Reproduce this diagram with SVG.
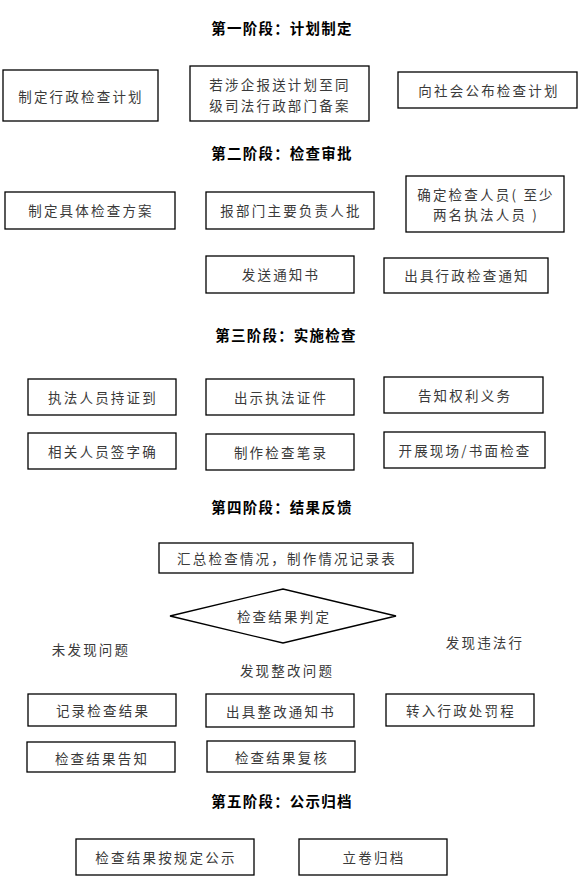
<svg xmlns="http://www.w3.org/2000/svg" width="586" height="876" viewBox="0 0 586 876">
<style>
.bx{fill:#fff;stroke:#000;stroke-width:1.3}
.t{font-family:"Noto Sans CJK SC","Noto Sans CJK JP",sans-serif;font-size:13.5px;fill:#3a3a3a;letter-spacing:2.2px;text-anchor:middle;dominant-baseline:central}
.h{font-family:"Noto Sans CJK SC","Noto Sans CJK JP",sans-serif;font-size:14.5px;font-weight:bold;fill:#000;letter-spacing:1.2px;text-anchor:middle;dominant-baseline:central}
</style>
<rect width="586" height="876" fill="#fff"/>
<g id="titles">
<text class="h" x="282" y="27">第一阶段：计划制定</text>
<text class="h" x="282" y="152">第二阶段：检查审批</text>
<text class="h" x="286" y="334">第三阶段：实施检查</text>
<text class="h" x="282" y="506">第四阶段：结果反馈</text>
<text class="h" x="282" y="800">第五阶段：公示归档</text>
</g>
<g id="n1"><rect class="bx" x="3" y="70" width="155" height="51"/><text class="t" x="81" y="96">制定行政检查计划</text></g>
<g id="n2"><rect class="bx" x="190" y="66" width="179" height="55"/><text class="t" x="280" y="84">若涉企报送计划至同</text><text class="t" x="280" y="105">级司法行政部门备案</text></g>
<g id="n3"><rect class="bx" x="398" y="72" width="179" height="36"/><text class="t" x="489" y="90">向社会公布检查计划</text></g>
<g id="n4"><rect class="bx" x="5" y="192" width="170" height="37"/><text class="t" x="91" y="210">制定具体检查方案</text></g>
<g id="n5"><rect class="bx" x="206" y="192" width="168" height="37"/><text class="t" x="291" y="210">报部门主要负责人批</text></g>
<g id="n6"><rect class="bx" x="406" y="176" width="158" height="56"/><text class="t" x="486" y="194">确定检查人员( 至少</text><text class="t" x="486" y="214">两名执法人员 )</text></g>
<g id="n7"><rect class="bx" x="206" y="256" width="148" height="37"/><text class="t" x="281" y="274">发送通知书</text></g>
<g id="n8"><rect class="bx" x="384" y="258" width="164" height="35"/><text class="t" x="467" y="275">出具行政检查通知</text></g>
<g id="n9"><rect class="bx" x="28" y="379" width="148" height="36"/><text class="t" x="103" y="397">执法人员持证到</text></g>
<g id="n10"><rect class="bx" x="206" y="379" width="148" height="36"/><text class="t" x="281" y="397">出示执法证件</text></g>
<g id="n11"><rect class="bx" x="384" y="377" width="159" height="36"/><text class="t" x="465" y="395">告知权利义务</text></g>
<g id="n12"><rect class="bx" x="28" y="433" width="148" height="36"/><text class="t" x="103" y="451">相关人员签字确</text></g>
<g id="n13"><rect class="bx" x="206" y="434" width="148" height="36"/><text class="t" x="281" y="452">制作检查笔录</text></g>
<g id="n14"><rect class="bx" x="384" y="432" width="161" height="36"/><text class="t" x="465" y="450">开展现场/书面检查</text></g>
<g id="n15"><rect class="bx" x="159" y="543" width="254" height="30"/><text class="t" x="287" y="558">汇总检查情况，制作情况记录表</text></g>
<g id="n16"><polygon class="bx" points="170,616 283,589 396,616 283,643"/><text class="t" x="284" y="616">检查结果判定</text></g>
<g id="labels">
<text class="t" x="91" y="649">未发现问题</text>
<text class="t" x="485" y="642">发现违法行</text>
<text class="t" x="287" y="670">发现整改问题</text>
</g>
<g id="n17"><rect class="bx" x="28" y="694" width="148" height="32"/><text class="t" x="103" y="710">记录检查结果</text></g>
<g id="n18"><rect class="bx" x="206" y="694" width="148" height="33"/><text class="t" x="281" y="711">出具整改通知书</text></g>
<g id="n19"><rect class="bx" x="386" y="694" width="148" height="32"/><text class="t" x="461" y="710">转入行政处罚程</text></g>
<g id="n20"><rect class="bx" x="27" y="742" width="148" height="30"/><text class="t" x="102" y="758">检查结果告知</text></g>
<g id="n21"><rect class="bx" x="207" y="741" width="148" height="31"/><text class="t" x="282" y="757">检查结果复核</text></g>
<g id="n22"><rect class="bx" x="76" y="839" width="178" height="36"/><text class="t" x="166" y="857">检查结果按规定公示</text></g>
<g id="n23"><rect class="bx" x="299" y="839" width="148" height="36"/><text class="t" x="374" y="857">立卷归档</text></g>
<g id="connectors"/>
</svg>
